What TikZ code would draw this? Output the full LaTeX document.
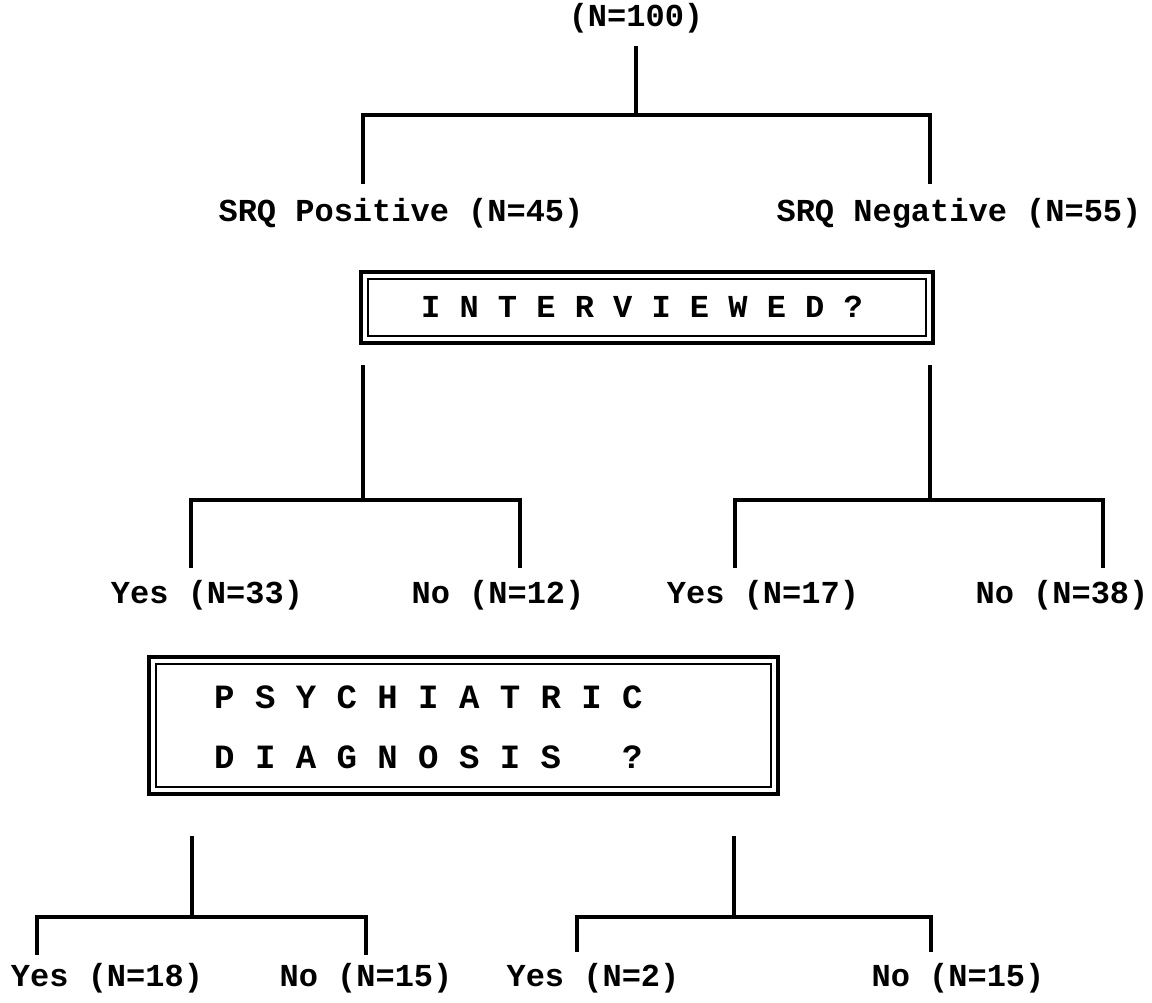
\documentclass[tikz,border=0pt]{standalone}
\usepackage{fontspec}
\setmonofont{Liberation Mono}
\usetikzlibrary{positioning}

\tikzset{
  lbl/.style={font=\ttfamily\bfseries\fontsize{32}{38}\selectfont, inner sep=0pt},
  boxlbl/.style={font=\ttfamily\bfseries\fontsize{34}{40}\selectfont, inner sep=0pt, anchor=west},
  branch/.style={line width=3.2pt, line cap=rect},
  outerframe/.style={line width=3.6pt},
  innerframe/.style={line width=2pt},
}

\begin{document}
\begin{tikzpicture}[x=1pt,y=-1pt]
    \useasboundingbox (0,0) rectangle (1152,1002);

    % Whole sample split by SRQ
    \node[lbl] (root) at (636,18) {(N=100)};
    \node[lbl] (srqpos) at (401,213) {SRQ Positive (N=45)};
    \node[lbl] (srqneg) at (959,213) {SRQ Negative (N=55)};
    \coordinate (rootstem) at (636,48);
    \coordinate (rootfork) at (636,115);
    \coordinate (srqpostop) at (363,182);
    \coordinate (srqnegtop) at (930,182);
    \draw[branch] (rootstem) -- (rootfork);
    \draw[branch] (srqpostop) |- (rootfork) -| (srqnegtop);

    % First question box
    \draw[outerframe] (361,272) rectangle (933,343);
    \draw[innerframe] (368,279) rectangle (926,336);
    \node[lbl] (interviewed) at (642,307) {I N T E R V I E W E D ?};

    % Interviewed or not
    \node[lbl] (yesA) at (207,595) {Yes (N=33)};
    \node[lbl] (noA) at (498,595) {No (N=12)};
    \node[lbl] (yesB) at (763,595) {Yes (N=17)};
    \node[lbl] (noB) at (1062,595) {No (N=38)};
    \coordinate (posstem) at (363,367);
    \coordinate (posfork) at (363,500);
    \coordinate (negstem) at (930,367);
    \coordinate (negfork) at (930,500);
    \coordinate (yesAtop) at (191,566);
    \coordinate (noAtop) at (520,566);
    \coordinate (yesBtop) at (735,566);
    \coordinate (noBtop) at (1103,566);
    \draw[branch] (posstem) -- (posfork);
    \draw[branch] (yesAtop) |- (posfork) -| (noAtop);
    \draw[branch] (negstem) -- (negfork);
    \draw[branch] (yesBtop) |- (negfork) -| (noBtop);

    % Second question box
    \draw[outerframe] (149,657) rectangle (778,794);
    \draw[innerframe] (156,664) rectangle (771,787);
    \node[boxlbl] (psych) at (214,697) {P S Y C H I A T R I C};
    \node[boxlbl] (diag) at (214,757) {D I A G N O S I S\ \ \ ?};

    % Diagnosis among the interviewed
    \node[lbl] (yesC) at (107,978) {Yes (N=18)};
    \node[lbl] (noC) at (366,978) {No (N=15)};
    \node[lbl] (yesD) at (593,978) {Yes (N=2)};
    \node[lbl] (noD) at (958,978) {No (N=15)};
    \coordinate (leftstem) at (192,838);
    \coordinate (leftfork) at (192,917);
    \coordinate (rightstem) at (734,838);
    \coordinate (rightfork) at (734,917);
    \coordinate (yesCtop) at (37,953);
    \coordinate (noCtop) at (366,953);
    \coordinate (yesDtop) at (577,950);
    \coordinate (noDtop) at (931,950);
    \draw[branch] (leftstem) -- (leftfork);
    \draw[branch] (yesCtop) |- (leftfork) -| (noCtop);
    \draw[branch] (rightstem) -- (rightfork);
    \draw[branch] (yesDtop) |- (rightfork) -| (noDtop);
\end{tikzpicture}
\end{document}
